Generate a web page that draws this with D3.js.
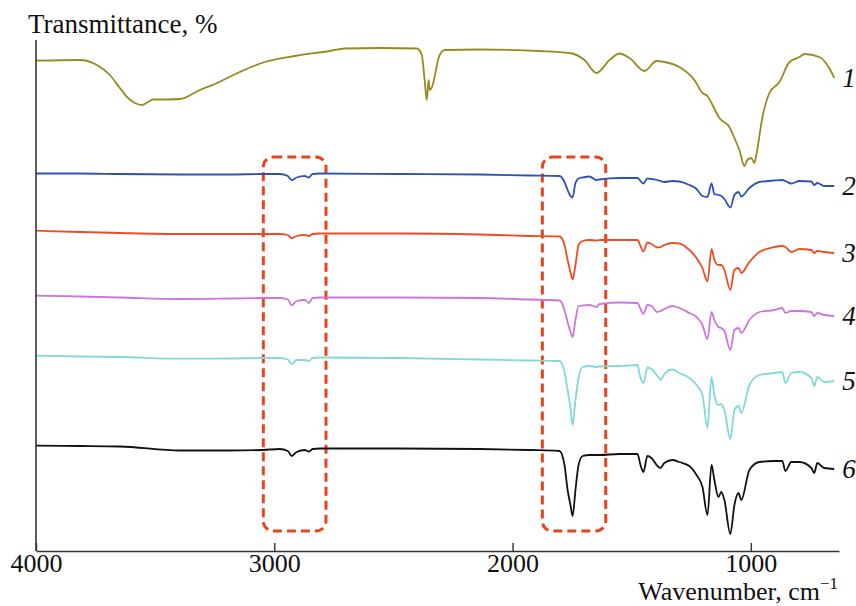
<!DOCTYPE html>
<html>
<head>
<meta charset="utf-8">
<script src="https://d3js.org/d3.v7.min.js"></script>
<style>
  body { margin: 0; background: #fff; }
  svg text { font-family: "Liberation Serif", "Times New Roman", serif; fill: #111; }
</style>
</head>
<body>
<script>
// wavenumber grid for curve 1
var wn1 = [4000, 3816, 3744, 3690, 3648, 3618, 3585, 3556, 3530, 3509, 3459, 3396, 3312, 3249, 3145, 3040,
  2914, 2767, 2704, 2558, 2402, 2381, 2369, 2360, 2352, 2348, 2340, 2306, 2285, 2138, 1887, 1761, 1698,
  1648, 1593, 1551, 1509, 1446, 1396, 1363, 1300, 1237, 1203, 1182, 1161, 1132, 1090, 1069, 1048, 1027,
  1015, 998, 985, 977, 952, 922, 880, 838, 796, 775, 713, 671, 650];
var curve1 = [490.3, 491, 486, 476, 463, 454, 448, 446, 449, 451.5, 451.5, 452, 461, 467, 479, 489,
  495, 500, 502.5, 503, 502.5, 496, 471, 451, 471, 461, 463, 496, 501, 501.5, 500, 498, 491,
  478, 491, 497.5, 493, 480, 490, 489, 484, 471, 458, 455, 446, 433, 424, 413, 401, 385,
  391, 393, 388, 396, 433, 458, 469, 489, 494, 497, 494, 483, 473];

// shared wavenumber grid for curves 2-6
var wn = [4000, 3816, 3648, 3396, 3187, 3048, 2977, 2943, 2927, 2906, 2872, 2855, 2839, 2809, 2474, 2138,
  1929, 1803, 1782, 1769, 1757, 1748, 1736, 1723, 1706, 1677, 1648, 1635, 1551, 1476, 1463, 1451,
  1434, 1417, 1392, 1379, 1363, 1329, 1300, 1258, 1228, 1203, 1182, 1165, 1153, 1136, 1124, 1111,
  1086, 1069, 1052, 1040, 1006, 964, 901, 868, 855, 830, 796, 746, 734, 721, 692, 650];
var curve2 = [377.5, 377.5, 377, 376.5, 376.5, 377, 377, 375, 371, 373.5, 375, 373.5, 377, 377.5, 377, 376.5,
  375.5, 375, 369, 361, 355, 353.5, 368, 372.5, 373.5, 374.5, 371, 371.5, 373, 373, 370, 367.5,
  372.5, 372, 371, 370, 369, 370, 369.5, 366, 362, 355, 354, 367.5, 357, 356, 355, 352,
  343.5, 356, 359, 354.5, 363, 369, 370.5, 371, 370, 367.5, 370, 369.5, 366, 368, 365, 365];
var curve3 = [320.3, 319, 318, 317, 317, 317, 317, 316, 312.7, 315, 316, 315, 317, 317.5, 317.5, 316.5,
  315, 314.5, 306, 291, 279, 271.5, 286, 306, 310, 311, 310.5, 311, 311, 311, 305, 299.5,
  308.5, 307, 303.5, 304, 306, 308, 307.5, 301, 293, 283, 269.5, 302, 291, 286, 286, 281,
  261, 281, 283, 278, 289, 299, 304, 305, 304, 299, 302, 301, 298, 300, 299, 298];
var curve4 = [255.3, 254.5, 253.5, 252, 252.5, 253, 253, 251.5, 245.7, 250, 251, 248, 253, 253.5, 253.5, 253,
  251.5, 250.5, 241, 229, 219, 214, 231, 245, 245.5, 246, 244, 247, 248.5, 248, 242, 237,
  246, 245, 239, 240, 242, 245, 243, 238, 234, 226, 212, 239, 231, 224, 223, 220,
  201, 221, 223, 218, 231, 239, 241, 243, 238, 240, 240, 239, 235, 238, 236, 235];
var curve5 = [195.3, 194.5, 194, 192.3, 192.5, 193, 193, 191.5, 187, 191, 191, 190, 193, 193.5, 193, 191.5,
  190.5, 190, 179, 161, 143, 126, 151, 173, 184, 185, 184, 184.5, 185, 186, 173, 168,
  183.5, 182, 175, 171, 177, 181.5, 178, 173, 166, 156, 123, 174, 156, 146, 147, 141,
  112, 141, 145, 138, 166, 176, 178, 179, 168, 178, 179, 173, 165, 174, 169, 170];
var curve6 = [105.3, 105, 104.5, 100.5, 100.5, 101, 102, 100, 95, 99, 101, 99.3, 102, 102.5, 102.5, 102,
  101, 100, 86, 61, 46, 35, 61, 86, 95, 96, 96, 96, 97, 97, 86, 79,
  95, 93, 85, 83, 88, 91, 89, 85, 76, 64, 36, 86, 71, 54, 59, 51,
  17, 46, 58, 51, 81, 89, 90, 90, 80, 89, 89, 83, 78, 88, 83, 82];

var seriesNames = ["1", "2", "3", "4", "5", "6"];
var seriesColors = ["#978a1f", "#2c53b3", "#f04a22", "#cc75da", "#80d9d6", "#111111"];
var xTicks = [4000, 3000, 2000, 1000];
// highlighted regions: wavenumber range, value range (a.u.)
var boxWn = [[3046, 2783], [1875, 1609]];
var boxVal = [20, 394];

var series = [
  {name: seriesNames[0], color: seriesColors[0], wn: wn1, v: curve1},
  {name: seriesNames[1], color: seriesColors[1], wn: wn, v: curve2},
  {name: seriesNames[2], color: seriesColors[2], wn: wn, v: curve3},
  {name: seriesNames[3], color: seriesColors[3], wn: wn, v: curve4},
  {name: seriesNames[4], color: seriesColors[4], wn: wn, v: curve5},
  {name: seriesNames[5], color: seriesColors[5], wn: wn, v: curve6}
];

var W = 856, H = 606;
var serif = '"Liberation Serif", "Times New Roman", serif';
var svg = d3.select("body").append("svg")
  .attr("width", W)
  .attr("height", H);

var x = d3.scaleLinear().domain([4000, 630]).range([36, 839]);
var y = d3.scaleLinear().domain([0, 510]).range([551, 41]);

var line = d3.line()
  .x(d => x(d[0]))
  .y(d => y(d[1]))
  .curve(d3.curveMonotoneX);

// dashed boxes
boxWn.forEach(function(b) {
  svg.append("rect")
    .attr("x", x(b[0]))
    .attr("y", y(boxVal[1]))
    .attr("width", x(b[1]) - x(b[0]))
    .attr("height", y(boxVal[0]) - y(boxVal[1]))
    .attr("rx", 10)
    .attr("fill", "none")
    .attr("stroke", "#e8441c")
    .attr("stroke-width", 3)
    .attr("stroke-dasharray", "9,5");
});

series.forEach(function(s) {
  var pts = s.wn.map((w, i) => [w, s.v[i]]);
  svg.append("path")
    .datum(pts)
    .attr("d", line)
    .attr("fill", "none")
    .attr("stroke", s.color)
    .attr("stroke-width", 1.8)
    .attr("stroke-linejoin", "round");
  var last = pts[pts.length - 1];
  svg.append("text")
    .attr("x", x(last[0]) + 8)
    .attr("y", y(last[1]) + 9)
    .style("font-family", serif)
    .style("font-size", "27px")
    .style("font-style", "italic")
    .text(s.name);
});

// axes
svg.append("g")
  .attr("transform", "translate(0," + y(0) + ")")
  .call(d3.axisBottom(x).tickValues(xTicks).tickFormat(d3.format("d"))
    .tickSizeInner(-8).tickSizeOuter(0).tickPadding(3))
  .call(g => g.select(".domain").attr("stroke", "#333").attr("stroke-width", 1.6))
  .call(g => g.selectAll(".tick line").attr("stroke", "#333").attr("stroke-width", 1.4))
  .call(g => g.selectAll(".tick text")
    .style("font-family", serif)
    .style("font-size", "26px")
    .attr("fill", "#111"));

svg.append("line")
  .attr("x1", x(4000)).attr("x2", x(4000))
  .attr("y1", y(0)).attr("y2", 40)
  .attr("stroke", "#333")
  .attr("stroke-width", 1.6);

svg.append("text")
  .attr("x", 28)
  .attr("y", 33)
  .style("font-family", serif)
  .style("font-size", "27px")
  .text("Transmittance, %");

var xl = svg.append("text")
  .attr("x", 838)
  .attr("y", 600)
  .attr("text-anchor", "end")
  .style("font-family", serif)
  .style("font-size", "26px");
xl.append("tspan").text("Wavenumber, cm");
xl.append("tspan").style("font-size", "17px").attr("dy", -11).text("\u22121");
</script>
</body>
</html>
